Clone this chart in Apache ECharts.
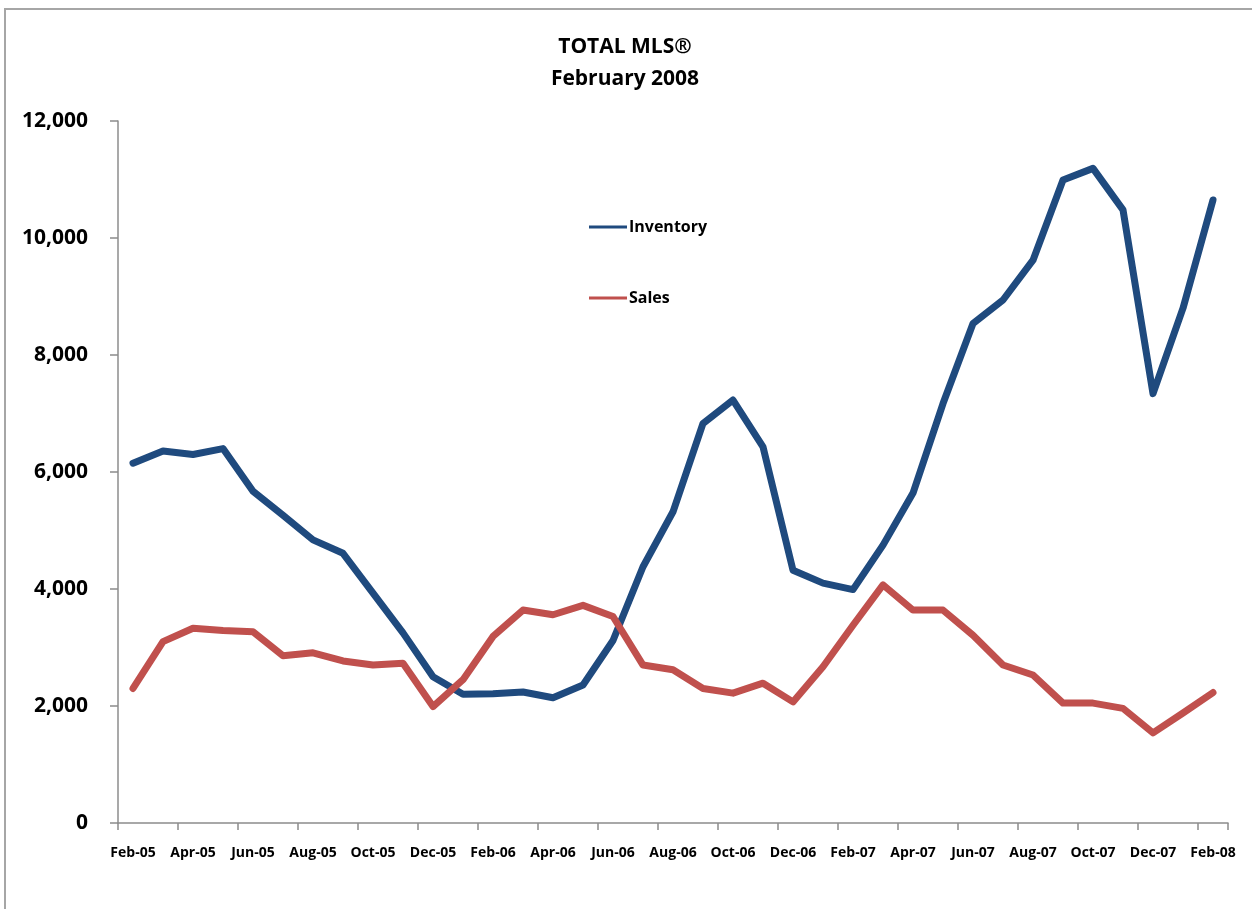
<!DOCTYPE html>
<html>
<head>
<meta charset="utf-8">
<script src="https://cdn.jsdelivr.net/npm/echarts@6/dist/echarts.min.js"></script>
<style>
html,body{margin:0;padding:0;background:#fff;}
#c{width:1252px;height:909px;}
</style>
</head>
<body>
<div id="c"></div>
<script>
const months = ['Feb-05','Mar-05','Apr-05','May-05','Jun-05','Jul-05','Aug-05','Sep-05','Oct-05','Nov-05','Dec-05','Jan-06',
  'Feb-06','Mar-06','Apr-06','May-06','Jun-06','Jul-06','Aug-06','Sep-06','Oct-06','Nov-06','Dec-06','Jan-07',
  'Feb-07','Mar-07','Apr-07','May-07','Jun-07','Jul-07','Aug-07','Sep-07','Oct-07','Nov-07','Dec-07','Jan-08','Feb-08'];
const inventory = [6150,6360,6300,6400,5670,5260,4840,4610,3930,3250,2500,2200,
  2210,2240,2140,2360,3120,4380,5320,6830,7230,6430,4320,4100,
  3990,4750,5640,7170,8540,8940,9620,10990,11190,10480,7340,8800,10650];
const sales = [2300,3100,3330,3290,3270,2860,2910,2770,2700,2730,1990,2450,
  3190,3640,3560,3720,3530,2700,2620,2300,2220,2390,2070,2670,
  3380,4070,3640,3640,3210,2700,2530,2050,2050,1960,1540,1880,2230];
const yTicks = {min:0, max:12000, interval:2000};
const titleText = 'TOTAL MLS®\nFebruary 2008';

const FONT = '"Liberation Sans Narrow","Open Sans",sans-serif';
const chart = echarts.init(document.getElementById('c'), null, {renderer:'canvas'});
chart.setOption({
  backgroundColor:'#fff',
  animation:false,
  graphic:[{type:'rect', shape:{x:5, y:9, width:1400, height:1100}, style:{fill:'none', stroke:'#a6a6a6', lineWidth:2}, silent:true}],
  title:{text:titleText, left:620, textAlign:'center', top:26,
    textStyle:{fontFamily:FONT, fontWeight:'bold', fontSize:21, lineHeight:32, color:'#000'}},
  legend:{orient:'vertical', left:584, top:214, itemGap:55, itemWidth:38, itemHeight:3, icon:'rect',
    textStyle:{fontFamily:FONT, fontWeight:'bold', fontSize:16, color:'#000', padding:[0,0,0,-3]},
    data:['Inventory','Sales']},
  grid:{left:118, top:121, width:1110, height:702, containLabel:false},
  xAxis:{type:'category', data:months, boundaryGap:true,
    axisLine:{lineStyle:{color:'#8c8c8c', width:1.5}},
    axisTick:{show:true, interval:1, length:7, lineStyle:{color:'#8c8c8c', width:1.5}},
    axisLabel:{interval:1, margin:23, fontFamily:FONT, fontWeight:'bold', fontSize:14, color:'#000'},
    splitLine:{show:false}},
  yAxis:{type:'value', min:yTicks.min, max:yTicks.max, interval:yTicks.interval,
    axisLine:{show:true, lineStyle:{color:'#8c8c8c', width:1.5}},
    axisTick:{show:true, length:8, lineStyle:{color:'#8c8c8c', width:1.5}},
    axisLabel:{margin:30, fontFamily:FONT, fontWeight:'bold', fontSize:21, color:'#000',
      formatter:v=>v.toLocaleString('en-US')},
    splitLine:{show:false}},
  series:[
    {name:'Inventory', type:'line', data:inventory, showSymbol:false, symbol:'none',
      lineStyle:{color:'#1f4a7e', width:7, join:'round', cap:'round'}, itemStyle:{color:'#1f4a7e'}},
    {name:'Sales', type:'line', data:sales, showSymbol:false, symbol:'none',
      lineStyle:{color:'#c0504d', width:7, join:'round', cap:'round'}, itemStyle:{color:'#c0504d'}}
  ]
});
</script>
</body>
</html>
